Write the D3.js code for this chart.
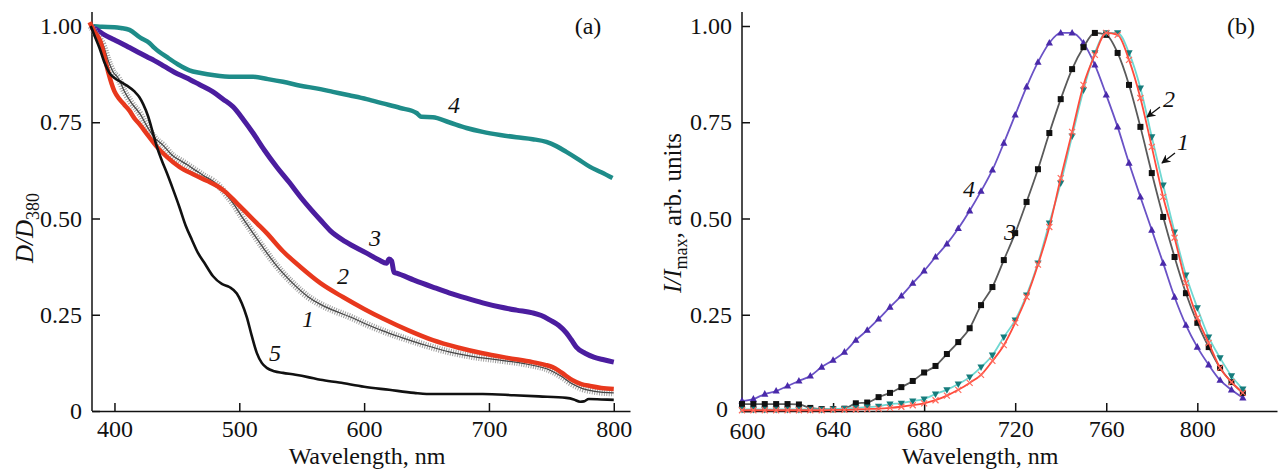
<!DOCTYPE html>
<meta charset="utf-8">
<body style="margin:0;background:#fff">
<script src="https://cdn.jsdelivr.net/npm/d3@7/dist/d3.min.js"></script>
<script>

    var width = 1280,
        height = 472;

    // ---- panel (a): absorption, D/D380 vs wavelength ----
    var c1nm  = [381,386,391,395,399,403,408,413,421,426,432,439,446,452,458,465,472,479,485,490,495,502,511,520,528,535,545,555,565,575,589,600,615,629,650,669,690,709,730,749,758,767,775,785,800];
    var c1val = [1.0,0.975,0.95,0.91,0.88,0.865,0.83,0.803,0.769,0.74,0.71,0.69,0.665,0.652,0.64,0.625,0.61,0.597,0.58,0.56,0.54,0.505,0.462,0.42,0.385,0.358,0.325,0.297,0.277,0.262,0.244,0.228,0.208,0.192,0.17,0.153,0.14,0.132,0.122,0.106,0.09,0.07,0.058,0.051,0.047];

    var c2nm  = [380,384,389,392,395,400,404,408,412,416,420,427,434,442,452,463,474,482,490,498,506,514,522,535,549,565,583,600,615,635,655,675,695,715,735,745,751,758,767,774,781,790,800];
    var c2val = [1.01,0.985,0.958,0.92,0.88,0.83,0.81,0.795,0.78,0.76,0.745,0.715,0.686,0.66,0.634,0.615,0.598,0.585,0.566,0.54,0.514,0.488,0.462,0.415,0.374,0.332,0.296,0.265,0.24,0.21,0.184,0.165,0.15,0.138,0.127,0.12,0.114,0.1,0.08,0.07,0.065,0.06,0.057];

    var c3nm  = [381,386,392,398,405,412,419,426,432,440,448,458,468,479,487,495,503,511,520,530,540,549,557,565,573,585,602,612,618,620,622,624,626,640,655,668,682,695,709,722,735,742,749,756,762,766,770,777,784,792,800];
    var c3val = [1.0,0.99,0.977,0.967,0.956,0.944,0.932,0.92,0.91,0.895,0.88,0.865,0.848,0.829,0.81,0.79,0.758,0.722,0.678,0.634,0.594,0.556,0.525,0.496,0.468,0.44,0.41,0.392,0.384,0.395,0.39,0.36,0.358,0.34,0.322,0.307,0.293,0.281,0.27,0.262,0.255,0.248,0.236,0.222,0.203,0.185,0.166,0.15,0.14,0.133,0.127];

    var c4nm  = [381,390,400,405,412,421,428,432,443,451,460,469,480,495,511,523,535,549,565,575,588,602,615,629,642,644,646,655,668,682,695,709,722,735,746,754,762,771,781,790,799];
    var c4val = [1.0,0.998,0.997,0.995,0.99,0.969,0.956,0.943,0.917,0.9,0.885,0.878,0.872,0.868,0.868,0.862,0.855,0.845,0.836,0.829,0.82,0.81,0.799,0.787,0.774,0.768,0.764,0.763,0.75,0.735,0.725,0.717,0.711,0.706,0.699,0.688,0.673,0.655,0.634,0.62,0.605];

    var c5nm  = [381,384,388,392,396,400,405,410,416,420,423,427,431,434,438,442,447,452,457,462,467,472,479,486,492,498,502,506,510,514,518,522,528,535,545,555,565,580,600,620,640,650,670,695,720,740,762,768,773,776,780,790,800];
    var c5val = [1.0,0.975,0.943,0.905,0.878,0.865,0.855,0.845,0.83,0.815,0.797,0.765,0.72,0.686,0.65,0.618,0.575,0.53,0.482,0.445,0.41,0.385,0.35,0.33,0.322,0.305,0.28,0.244,0.195,0.151,0.125,0.112,0.103,0.099,0.094,0.088,0.081,0.074,0.063,0.055,0.047,0.044,0.044,0.044,0.041,0.038,0.034,0.03,0.024,0.025,0.031,0.03,0.029];

    var aTicksX = [400, 500, 600, 700, 800];

    // ---- panel (b): luminescence, I/Imax vs wavelength (every 5 nm, 600..820) ----
    var bnm = d3.range(600, 821, 5);
    var b1val = [0.004,0.004,0.004,0.004,0.004,0.004,0.004,0.004,0.005,0.006,0.008,0.01,0.012,0.018,0.02,0.026,0.031,0.044,0.055,0.07,0.088,0.114,0.145,0.192,0.236,0.301,0.384,0.488,0.592,0.714,0.834,0.93,0.982,0.982,0.93,0.839,0.712,0.587,0.465,0.353,0.268,0.192,0.138,0.091,0.057];
    var b2val = [0.002,0.002,0.002,0.002,0.002,0.002,0.002,0.002,0.003,0.003,0.004,0.005,0.006,0.008,0.011,0.015,0.02,0.028,0.04,0.055,0.073,0.094,0.13,0.171,0.229,0.296,0.38,0.478,0.605,0.725,0.847,0.925,0.982,0.977,0.912,0.813,0.686,0.556,0.45,0.332,0.242,0.177,0.112,0.075,0.047];
    var b3val = [0.018,0.018,0.018,0.018,0.018,0.017,0.008,0.005,0.005,0.006,0.02,0.022,0.036,0.047,0.062,0.078,0.1,0.117,0.148,0.179,0.215,0.275,0.322,0.392,0.462,0.543,0.628,0.722,0.81,0.888,0.945,0.982,0.977,0.93,0.847,0.738,0.618,0.504,0.4,0.306,0.229,0.166,0.112,0.075,0.047];
    var b4val = [0.026,0.031,0.044,0.052,0.065,0.078,0.091,0.114,0.132,0.153,0.184,0.21,0.239,0.27,0.299,0.332,0.364,0.4,0.434,0.474,0.52,0.571,0.626,0.696,0.769,0.842,0.906,0.956,0.982,0.982,0.956,0.899,0.821,0.738,0.644,0.556,0.47,0.384,0.296,0.223,0.166,0.12,0.08,0.055,0.034];

    var bTicksX = [600, 640, 680, 720, 760, 800];
    var yTicks = [0, 0.25, 0.5, 0.75, 1];

    var serif = "'Liberation Serif', 'DejaVu Serif', serif";

    var svg = d3.select("body").append("svg")
            .attr("width", width)
            .attr("height", height)
            .style("background", "#fff");

    var xa = d3.scaleLinear().domain([382, 813]).range([92, 630]);
    var xb = d3.scaleLinear().domain([600, 835]).range([742, 1277]);
    var y  = d3.scaleLinear().domain([0, 1]).range([411, 26]);

    function pts(nm, val) {
        return nm.map(function(d, i) { return [d, val[i]]; });
    }

    function axes(x, ticks, left) {
        var fmt = function(d) { return d === 0 ? "0" : d3.format(".2f")(d); };
        var gy = svg.append("g")
                .attr("transform", "translate(" + left + ",0)")
                .call(d3.axisLeft(y).tickValues(yTicks).tickSize(-8).tickPadding(10).tickFormat(fmt));
        var gx = svg.append("g")
                .attr("transform", "translate(0," + y(0) + ")")
                .call(d3.axisBottom(x).tickValues(ticks).tickSize(-8).tickPadding(9).tickSizeOuter(0));
        [gy, gx].forEach(function(g) {
            g.attr("font-family", serif).attr("font-size", 24);
            g.selectAll("line").attr("stroke", "#111").attr("stroke-width", 1.5);
            g.selectAll("text").attr("fill", "#111");
        });
        gy.select(".domain").remove();
        gx.select(".domain").attr("stroke", "#111").attr("stroke-width", 1.5);
        svg.append("line")
                .attr("x1", left).attr("x2", left)
                .attr("y1", y(0)).attr("y2", 12)
                .attr("stroke", "#111").attr("stroke-width", 1.5);
        return {gx: gx, gy: gy};
    }

    axes(xa, aTicksX, xa.range()[0]);
    var axB = axes(xb, bTicksX, xb.range()[0]);
    // corner labels of (b) sit close together: nudge them apart a little
    axB.gy.selectAll(".tick").filter(function(d) { return d === 0; })
            .select("text").attr("x", -14).attr("dy", "0.22em");
    axB.gx.selectAll(".tick").filter(function(d) { return d === 600; })
            .select("text").attr("x", 5).attr("dy", "0.78em");

    // panel (a) curves
    var lineA = d3.line()
            .x(function(d) { return xa(d[0]); })
            .y(function(d) { return y(d[1]); })
            .curve(d3.curveMonotoneX);

    function pathA(data, color, w, dash) {
        var p = svg.append("path")
                .datum(data)
                .attr("d", lineA)
                .attr("fill", "none")
                .attr("stroke", color)
                .attr("stroke-width", w)
                .attr("stroke-linejoin", "round");
        if (dash) p.attr("stroke-dasharray", dash);
        return p;
    }

    pathA(pts(c4nm, c4val), "#1e8c89", 4.5);
    pathA(pts(c3nm, c3val), "#4b1d9f", 5);
    pathA(pts(c1nm, c1val), "#a0a0a0", 7, "1,1.4");
    pathA(pts(c1nm, c1val), "#444", 1.2);
    pathA(pts(c2nm, c2val), "#e8381d", 4.5);
    pathA(pts(c5nm, c5val), "#111", 2.6);

    // panel (b) curves with markers
    var lineB = d3.line()
            .x(function(d) { return xb(d[0]); })
            .y(function(d) { return y(d[1]); })
            .curve(d3.curveMonotoneX);

    var series = [
        {v: b4val, line: "#6a52c6", mark: "#4a2aaa", sym: "up"},
        {v: b3val, line: "#5a5a5a", mark: "#111",    sym: "sq"},
        {v: b1val, line: "#6fd8d2", mark: "#167c7c", sym: "down"},
        {v: b2val, line: "#ff4b3c", mark: "#ff6a5c", sym: "x"}
    ];

    series.forEach(function(s) {
        var data = pts(bnm, s.v);
        svg.append("path")
                .datum(data)
                .attr("d", lineB)
                .attr("fill", "none")
                .attr("stroke", s.line)
                .attr("stroke-width", 1.8);
        var g = svg.append("g");
        data.forEach(function(d) {
            var cx = xb(d[0]), cy = y(d[1]);
            if (s.sym === "sq") {
                g.append("rect").attr("x", cx - 3).attr("y", cy - 3)
                        .attr("width", 6).attr("height", 6).attr("fill", s.mark);
            } else if (s.sym === "up") {
                g.append("path").attr("d", "M" + cx + "," + (cy - 4) + "L" + (cx + 3.6) + "," + (cy + 2.6) + "L" + (cx - 3.6) + "," + (cy + 2.6) + "Z")
                        .attr("fill", s.mark);
            } else if (s.sym === "down") {
                g.append("path").attr("d", "M" + cx + "," + (cy + 4) + "L" + (cx + 3.6) + "," + (cy - 2.6) + "L" + (cx - 3.6) + "," + (cy - 2.6) + "Z")
                        .attr("fill", s.mark);
            } else {
                g.append("path").attr("d", "M" + (cx - 3) + "," + (cy - 3) + "L" + (cx + 3) + "," + (cy + 3) + "M" + (cx + 3) + "," + (cy - 3) + "L" + (cx - 3) + "," + (cy + 3))
                        .attr("stroke", s.mark).attr("stroke-width", 1.2);
            }
        });
    });

    // curve numbers
    var labels = [
        {t: "1", x: 308, y: 327}, {t: "2", x: 343, y: 284}, {t: "3", x: 375, y: 246},
        {t: "4", x: 454, y: 113}, {t: "5", x: 275, y: 361},
        {t: "4", x: 969, y: 197}, {t: "3", x: 1010, y: 240},
        {t: "2", x: 1169, y: 107}, {t: "1", x: 1183, y: 150}
    ];
    svg.selectAll("text.num").data(labels).enter().append("text")
            .attr("class", "num")
            .attr("x", function(d) { return d.x; })
            .attr("y", function(d) { return d.y; })
            .attr("text-anchor", "middle")
            .attr("font-family", serif).attr("font-size", 24).attr("font-style", "italic")
            .attr("fill", "#111")
            .text(function(d) { return d.t; });

    // arrows in (b)
    svg.append("defs").append("marker")
            .attr("id", "ah").attr("viewBox", "0 0 10 10").attr("refX", 9).attr("refY", 5)
            .attr("markerWidth", 9).attr("markerHeight", 9).attr("orient", "auto")
            .attr("markerUnits", "userSpaceOnUse")
            .append("path").attr("d", "M0,0L10,5L0,10L3,5Z").attr("fill", "#111");
    [[1160, 107, 1147, 117], [1175, 153, 1162, 163]].forEach(function(a) {
        svg.append("line")
                .attr("x1", a[0]).attr("y1", a[1]).attr("x2", a[2]).attr("y2", a[3])
                .attr("stroke", "#111").attr("stroke-width", 1.3)
                .attr("marker-end", "url(#ah)");
    });

    // panel letters
    svg.append("text").attr("x", 588).attr("y", 34).attr("text-anchor", "middle")
            .attr("font-family", serif).attr("font-size", 24).attr("fill", "#111").text("(a)");
    svg.append("text").attr("x", 1241).attr("y", 34).attr("text-anchor", "middle")
            .attr("font-family", serif).attr("font-size", 24).attr("fill", "#111").text("(b)");

    // axis titles
    [367, 980].forEach(function(cx) {
        svg.append("text").attr("x", cx).attr("y", 464).attr("text-anchor", "middle")
                .attr("font-family", serif).attr("font-size", 24).attr("fill", "#111")
                .text("Wavelength, nm");
    });

    var ta = svg.append("text")
            .attr("transform", "translate(33,228) rotate(-90)")
            .attr("text-anchor", "middle")
            .attr("font-family", serif).attr("font-size", 25).attr("fill", "#111");
    ta.append("tspan").attr("font-style", "italic").text("D/D");
    ta.append("tspan").attr("font-size", 18).attr("dy", 6).text("380");

    var tb = svg.append("text")
            .attr("transform", "translate(681,213) rotate(-90)")
            .attr("text-anchor", "middle")
            .attr("font-family", serif).attr("font-size", 25).attr("fill", "#111");
    tb.append("tspan").attr("font-style", "italic").text("I/I");
    tb.append("tspan").attr("font-size", 18).attr("dy", 6).text("max");
    tb.append("tspan").attr("dy", -6).text(", arb. units");

</script>
